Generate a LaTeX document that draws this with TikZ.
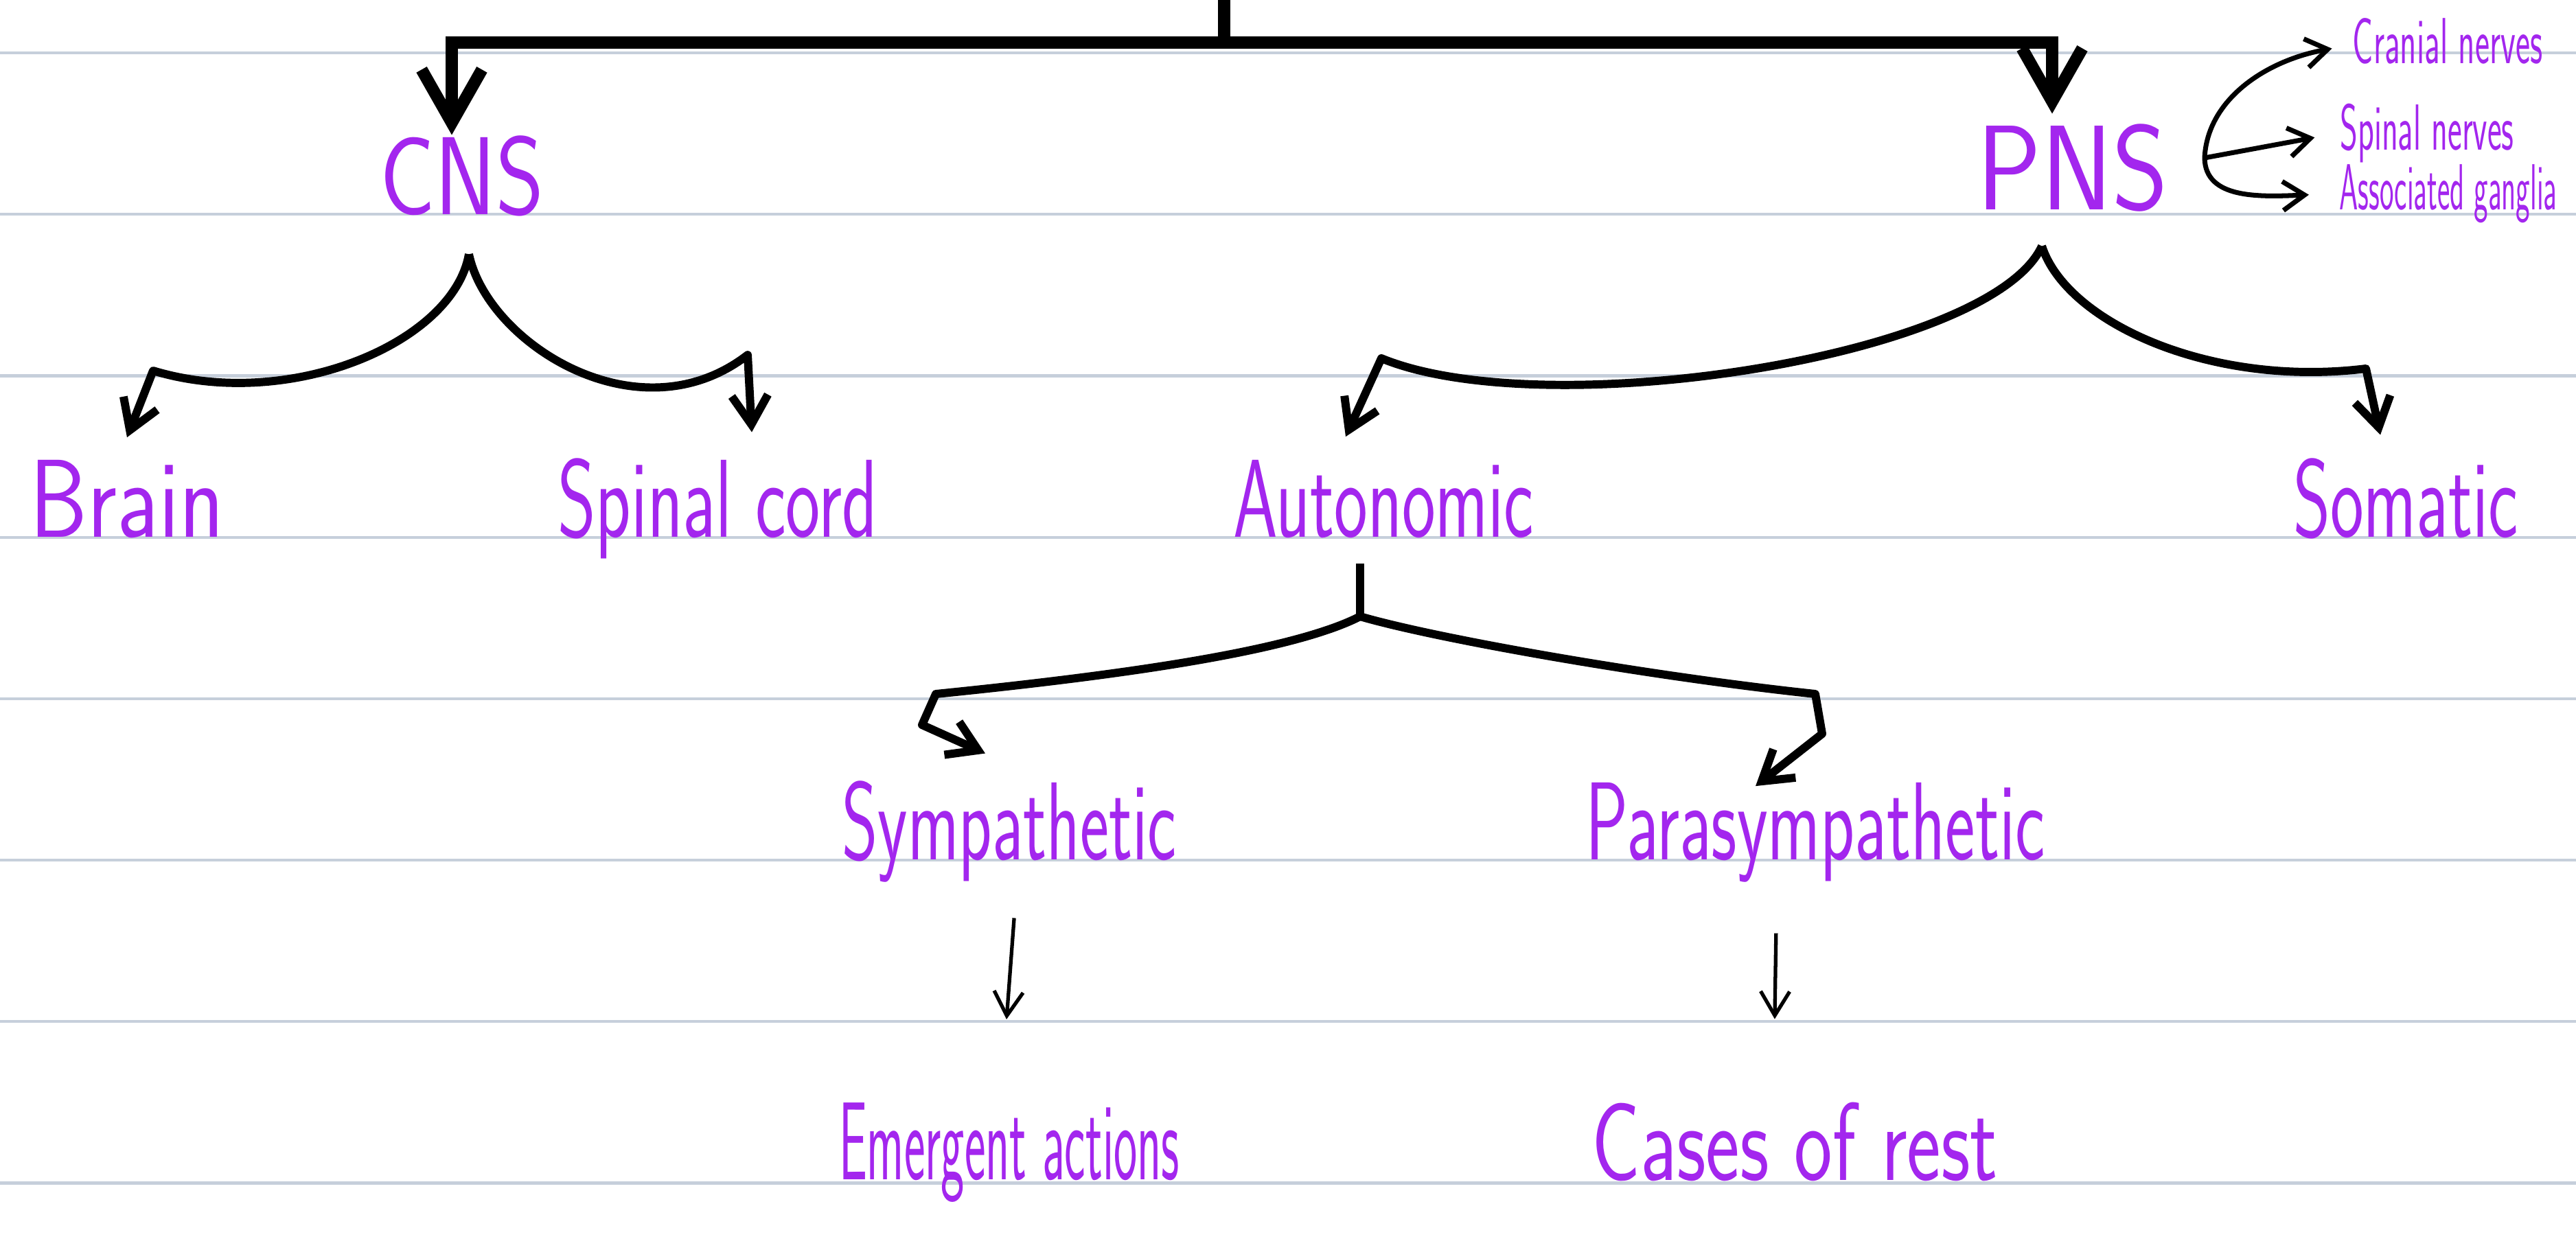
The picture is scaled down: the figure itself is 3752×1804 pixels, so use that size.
\documentclass[tikz,border=0pt]{standalone}
\usepackage{fontspec}
\usepackage{graphicx}
\usetikzlibrary{arrows.meta,positioning}

\definecolor{ink}{RGB}{163,38,238}
\definecolor{ruling}{RGB}{198,207,219}

\newcommand{\squeeze}[2]{\scalebox{#1}[1]{#2}}

\tikzset{
  hand/.style={font=\sffamily\fontsize{46}{50}\selectfont, text=ink, inner sep=0pt},
  note/.style={font=\sffamily\fontsize{27}{30}\selectfont, text=ink, inner sep=0pt},
  trunk/.style={line width=5pt, >={Straight Barb[length=22pt,width=25pt]}},
  branch/.style={line width=3.4pt, line join=round, >={Straight Barb[length=12pt,width=15pt]}},
  fan/.style={line width=2pt, >={Straight Barb[length=9pt,width=12pt]}},
  pointer/.style={line width=1.5pt, >={Straight Barb[length=10pt,width=12pt]}},
  rule/.style={draw=ruling, line width=1.2pt}
}

\begin{document}
\begin{tikzpicture}[x=0.1mm, y=-0.1mm]
  \useasboundingbox[fill=white] (0,0) rectangle (3752,1804);
  % ruled paper
  \foreach \k in {0,...,7}
    \draw[rule] (0,{77+235.2*\k}) -- (3752,{77+235.2*\k});

  \node[hand, anchor=base] (cns) at (673,312) {\squeeze{.83}{CNS}};
  \node[hand, font=\sffamily\fontsize{50}{54}\selectfont, anchor=base] (pns) at (3019,305) {\squeeze{.89}{PNS}};
  \node[note, anchor=base] (cran) at (3565,92) {\squeeze{.53}{Cranial nerves}};
  \node[note, anchor=base] (spin) at (3535,218) {\squeeze{.52}{Spinal nerves}};
  \node[note, anchor=base] (gang) at (3566,305) {\squeeze{.46}{Associated ganglia}};
  \node[hand, anchor=base] (brain) at (185,782) {\squeeze{.83}{Brain}};
  \node[hand, anchor=base] (cord) at (1045,782) {\squeeze{.66}{Spinal cord}};
  \node[hand, anchor=base] (auto) at (2015,782) {\squeeze{.64}{Autonomic}};
  \node[hand, anchor=base] (soma) at (3504,782) {\squeeze{.64}{Somatic}};
  \node[hand, anchor=base] (symp) at (1470,1252) {\squeeze{.62}{Sympathetic}};
  \node[hand, anchor=base] (para) at (2644,1252) {\squeeze{.64}{Parasympathetic}};
  \node[hand, below=32mm of symp] (emerg) {\squeeze{.45}{Emergent actions}};
  \node[hand, below=32mm of para, xshift=-3mm] (rest) {\squeeze{.73}{Cases of rest}};

  % nervous system split
  \coordinate (top) at (1783,0);
  \coordinate (split) at (1783,62);
  \draw[trunk] (top) -- (split);
  \draw[trunk,->] (split) -| ([xshift=-1.5mm]cns.north);
  \draw[trunk,->] (split) -| ([xshift=-3mm,yshift=1.4mm]pns.north);

  % CNS
  \coordinate[below=5.5mm of cns, xshift=1mm] (cnsfork);
  \draw[branch,->] (cnsfork) .. controls (660,500) and (420,600) .. (223,540)
    -- ([yshift=3.2mm]brain.north);
  \draw[branch,->] (cnsfork) .. controls (710,500) and (930,640) .. (1089,517)
    -- ([xshift=5mm,yshift=3.7mm]cord.north);

  % PNS
  \coordinate (pnsfan) at (3211,230);
  \draw[fan,->, shorten >=3mm] (pnsfan) .. controls (3215,145) and (3300,88) .. ([yshift=-0.6mm]cran.west);
  \draw[fan,->, shorten >=3.7mm] (pnsfan) -- (spin.west);
  \draw[fan,->, shorten >=4.4mm] (pnsfan) .. controls (3212,290) and (3290,287) .. (gang.west);

  \coordinate[below=5mm of pns, xshift=-4.5mm] (pnsfork);
  \draw[branch,->] (pnsfork) .. controls (2900,520) and (2250,620) .. (2012,522)
    -- ([xshift=-5.5mm,yshift=3.3mm]auto.north);
  \draw[branch,->] (pnsfork) .. controls (3010,470) and (3220,565) .. (3446,537)
    -- ([xshift=-3.7mm,yshift=3.3mm]soma.north);

  % autonomic
  \coordinate[below=11.4mm of auto, xshift=-3.4mm] (autofork);
  \draw[branch] ([xshift=-3.4mm,yshift=-3.7mm]auto.south) -- (autofork);
  \draw[branch,->] (autofork) .. controls (1880,950) and (1620,985) .. (1363,1011)
    -- (1343,1056) -- ([xshift=-3.5mm,yshift=3.9mm]symp.north);
  \draw[branch,->] (autofork) .. controls (2090,930) and (2400,985) .. (2644,1011)
    -- (2654,1069) -- ([xshift=-8.7mm,yshift=-0.6mm]para.north);

  \draw[pointer,->, shorten <=5.2mm, shorten >=12.1mm] ([xshift=1.1mm]symp.south) -- ([xshift=-1.3mm]emerg.north);
  \draw[pointer,->, shorten <=7.4mm, shorten >=12.1mm] ([xshift=-5.6mm]para.south) -- ([xshift=-3.1mm]rest.north);
\end{tikzpicture}
\end{document}
